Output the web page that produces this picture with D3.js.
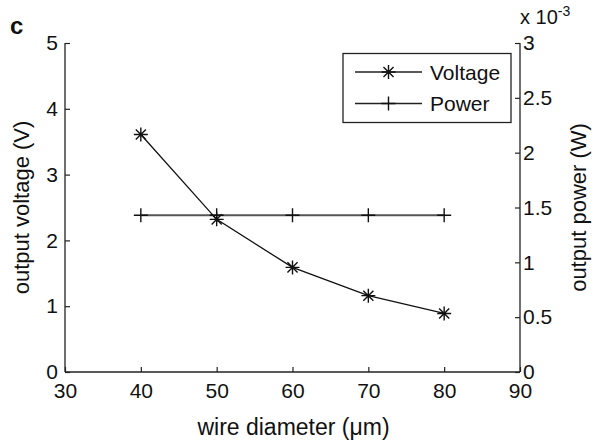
<!DOCTYPE html>
<html><head><meta charset="utf-8">
<script src="https://cdn.jsdelivr.net/npm/d3@7"></script>
<style>body{margin:0;background:#fff}svg{display:block}text{font-family:"Liberation Sans",Arial,Helvetica,sans-serif;fill:#111}</style>
</head><body><svg id="c" width="594" height="447"></svg>
<script>
const diameters = [40, 50, 60, 70, 80];
const voltage = [3.61, 2.32, 1.59, 1.16, 0.89];
const power = [1.43, 1.43, 1.43, 1.43, 1.43]; // x 10^-3 W
const xTicks = [30, 40, 50, 60, 70, 80, 90];
const yLeftTicks = [0, 1, 2, 3, 4, 5];
const yRightTicks = [0, 0.5, 1, 1.5, 2, 2.5, 3];

const svg = d3.select("#c");
const L = 65, R = 520, T = 43, B = 372;
const x = d3.scaleLinear().domain([30, 90]).range([L, R]);
const yL = d3.scaleLinear().domain([0, 5]).range([B, T]);
const yR = d3.scaleLinear().domain([0, 3]).range([B, T]);
const fs = 21;

// axes
const gx = svg.append("g").attr("transform", `translate(0,${B})`)
  .call(d3.axisBottom(x).tickValues(xTicks).tickSize(-5).tickPadding(11).tickFormat(d3.format("d")));
const gl = svg.append("g").attr("transform", `translate(${L},0)`)
  .call(d3.axisLeft(yL).tickValues(yLeftTicks).tickSize(-5).tickPadding(7).tickFormat(d3.format("d")));
const gr = svg.append("g").attr("transform", `translate(${R},0)`)
  .call(d3.axisRight(yR).tickValues(yRightTicks).tickSize(-5).tickPadding(3).tickFormat(d => d3.format("")(d)));
[gx, gl, gr].forEach(g => {
  g.select(".domain").attr("stroke", "#222").attr("stroke-width", 1.3);
  g.selectAll(".tick line").attr("stroke", "#222").attr("stroke-width", 1.2);
  g.selectAll(".tick text").attr("font-size", fs).attr("fill", "#111")
    .attr("font-family", '"Liberation Sans",Arial,Helvetica,sans-serif');
});
gl.select(".domain").attr("d", `M0,${B}V${T}`);
gr.select(".domain").attr("d", `M0,${B}V${T}`);
gx.select(".domain").attr("d", `M${L},0H${R}`);

// power line
const lineP = d3.line().x((d, i) => x(diameters[i])).y(d => yR(d));
svg.append("path").datum(power).attr("d", lineP).attr("fill", "none")
  .attr("stroke", "#555").attr("stroke-width", 2);
// voltage line
const lineV = d3.line().x((d, i) => x(diameters[i])).y(d => yL(d));
svg.append("path").datum(voltage).attr("d", lineV).attr("fill", "none")
  .attr("stroke", "#111").attr("stroke-width", 1.3);

const ms = 7;
function plusMarker(g, cx, cy) {
  g.append("path").attr("d", `M${cx - ms},${cy}H${cx + ms}M${cx},${cy - ms}V${cy + ms}`)
    .attr("stroke", "#111").attr("stroke-width", 1.4).attr("fill", "none");
}
function starMarker(g, cx, cy) {
  const d = ms * 0.72;
  g.append("path").attr("d",
    `M${cx - ms},${cy}H${cx + ms}M${cx},${cy - ms}V${cy + ms}M${cx - d},${cy - d}L${cx + d},${cy + d}M${cx - d},${cy + d}L${cx + d},${cy - d}`)
    .attr("stroke", "#111").attr("stroke-width", 1.4).attr("fill", "none");
}
const mg = svg.append("g");
power.forEach((p, i) => plusMarker(mg, x(diameters[i]), yR(p)));
voltage.forEach((v, i) => starMarker(mg, x(diameters[i]), yL(v)));

// legend
const lg = svg.append("g");
lg.append("rect").attr("x", 343).attr("y", 53.5).attr("width", 168).attr("height", 69)
  .attr("fill", "#fff").attr("stroke", "#222").attr("stroke-width", 1.3);
lg.append("line").attr("x1", 355).attr("x2", 422).attr("y1", 72).attr("y2", 72).attr("stroke", "#222").attr("stroke-width", 1.3);
starMarker(lg, 388.5, 72);
lg.append("text").attr("x", 430).attr("y", 79.5).attr("font-size", fs).text("Voltage");
lg.append("line").attr("x1", 355).attr("x2", 422).attr("y1", 103.5).attr("y2", 103.5).attr("stroke", "#222").attr("stroke-width", 1.3);
plusMarker(lg, 388.5, 103.5);
lg.append("text").attr("x", 430).attr("y", 111).attr("font-size", fs).text("Power");

// axis labels
svg.append("text").attr("x", (L + R) / 2 + 1).attr("y", 435).attr("text-anchor", "middle")
  .attr("font-size", 23).text("wire diameter (\u03BCm)");
svg.append("text").attr("transform", `translate(29,${(T + B) / 2}) rotate(-90)`)
  .attr("text-anchor", "middle").attr("font-size", 22).text("output voltage (V)");
svg.append("text").attr("transform", `translate(586,${(T + B) / 2}) rotate(-90)`)
  .attr("text-anchor", "middle").attr("font-size", 22).text("output power (W)");

// exponent
const ex = svg.append("text").attr("x", 520).attr("y", 24).attr("font-size", 20);
ex.append("tspan").text("x 10");
ex.append("tspan").attr("font-size", 14).attr("dy", -8).text("-3");

// panel label
svg.append("text").attr("x", 10).attr("y", 34).attr("font-size", 24).attr("font-weight", "bold").text("c");
</script></body></html>
